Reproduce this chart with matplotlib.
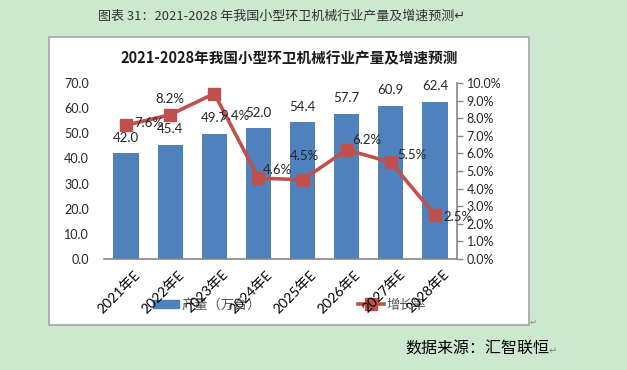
import matplotlib.pyplot as plt
from matplotlib.patches import Rectangle, Patch
from matplotlib.lines import Line2D
from matplotlib.ticker import FuncFormatter
from matplotlib.transforms import ScaledTranslation

plt.rcParams['font.family'] = ['Noto Sans CJK SC', 'DejaVu Sans']

years = ['2021年E', '2022年E', '2023年E', '2024年E', '2025年E', '2026年E', '2027年E', '2028年E']
output = [42.0, 45.4, 49.7, 52.0, 54.4, 57.7, 60.9, 62.4]      # 万台
growth = [7.6, 8.2, 9.4, 4.6, 4.5, 6.2, 5.5, 2.5]             # %

# where each growth label sits relative to its marker (pixels)
label_offsets = [(8, 2), (0, 16), (6, -22), (4, 8), (2, 24), (6, 10), (6, 7), (8, -2)]

bar_color = '#4F81BD'
line_color = '#C0504D'
txt = '#262626'
num_font = 'Lato'

fig = plt.figure(figsize=(6.27, 3.70), dpi=100)
fig.patch.set_facecolor('#CCE8CF')

# white chart box
box = Rectangle((49 / 627, 1 - 325 / 370), 480 / 627, 288 / 370, transform=fig.transFigure,
                facecolor='white', edgecolor='#A6A6A6', linewidth=1.2, zorder=-5)
fig.add_artist(box)

fig.text(98 / 627, 1 - 16 / 370, '图表 31：2021-2028 年我国小型环卫机械行业产量及增速预测↵',
         ha='left', va='center', fontsize=9.4, color='#333333')
fig.text(289 / 627, 1 - 58 / 370, '2021-2028年我国小型环卫机械行业产量及增速预测',
         ha='center', va='center', fontsize=10.5, fontweight='bold', color='#1a1a1a')
fig.text(405 / 627, 1 - 349 / 370, '数据来源：汇智联恒', ha='left', va='center',
         fontsize=11.5, color='black')
fig.text(549 / 627, 1 - 351 / 370, '↵', ha='left', va='center', fontsize=7, color='#888888')
fig.text(530 / 627, 1 - 322 / 370, '↵', ha='left', va='center', fontsize=6, color='#888888')

ax = fig.add_axes([104 / 627, 1 - 259 / 370, 353 / 627, 176 / 370])
ax.set_facecolor('none')
x = range(len(years))
bars = ax.bar(x, output, width=0.57, color=bar_color, zorder=2)
ax.set_xlim(-0.5, len(years) - 0.5)
ax.set_ylim(0, 70)
ax.set_yticks(range(0, 71, 10))
ax.yaxis.set_major_formatter(FuncFormatter(lambda v, p: f'{v:.1f}'))
for s in ['top', 'left', 'right']:
    ax.spines[s].set_visible(False)
ax.spines['bottom'].set_color('#868686')
ax.spines['bottom'].set_linewidth(1.2)
ax.tick_params(axis='y', length=0, pad=11, labelsize=9, labelcolor=txt)
ax.tick_params(axis='x', length=0, pad=0)
for lab in ax.get_yticklabels():
    lab.set_fontfamily(num_font)
ax.set_xticks(list(x))
ax.set_xticklabels(years, rotation=45, ha='right', va='top', rotation_mode='anchor',
                   fontsize=10, color='black')
shift = ScaledTranslation(7 / 100, -9 / 100, fig.dpi_scale_trans)
for lab in ax.get_xticklabels():
    lab.set_fontfamily(['Lato', 'Noto Sans CJK SC'])
    lab.set_transform(lab.get_transform() + shift)

for i, v in enumerate(output):
    ax.annotate(f'{v:.1f}', (i, v), xytext=(0, 7), textcoords='offset points',
                ha='center', va='bottom', fontsize=9.5, color=txt, family=num_font)

ax2 = ax.twinx()
ax2.plot(list(x), growth, color=line_color, linewidth=2.6, marker='s', markersize=9,
         markerfacecolor=line_color, markeredgecolor=line_color, zorder=3)
ax2.set_ylim(0, 10)
ax2.set_yticks(range(0, 11))
ax2.yaxis.set_major_formatter(FuncFormatter(lambda v, p: f'{v:.1f}%'))
for s in ['top', 'left', 'bottom']:
    ax2.spines[s].set_visible(False)
ax2.spines['right'].set_color('#868686')
ax2.spines['right'].set_linewidth(1.2)
ax2.tick_params(axis='y', direction='out', length=4, width=1, color='#868686',
                pad=3, labelsize=9, labelcolor=txt)
for lab in ax2.get_yticklabels():
    lab.set_fontfamily(num_font)

for i, v in enumerate(growth):
    dx, dy = label_offsets[i]
    ax2.annotate(f'{v:.1f}%', (i, v), xytext=(dx, dy), textcoords='offset pixels',
                 ha='left' if dx > 3 else 'center', va='center', fontsize=9.5,
                 color=txt, family=num_font)

handles = [Patch(facecolor=bar_color, edgecolor=bar_color),
           Line2D([0], [0], color=line_color, linewidth=2.6, marker='s', markersize=9)]
leg = ax.legend(handles, ['产量（万台）', '增长率'], loc='center left',
                bbox_to_anchor=(37 / 353, -46 / 176), ncol=2, frameon=False,
                fontsize=9.5, handlelength=1.95, handleheight=0.6, columnspacing=7.4,
                handletextpad=0.2, labelcolor='#595959')
leg.set_zorder(1)

fig.savefig('out.png', dpi=100, facecolor=fig.get_facecolor())
